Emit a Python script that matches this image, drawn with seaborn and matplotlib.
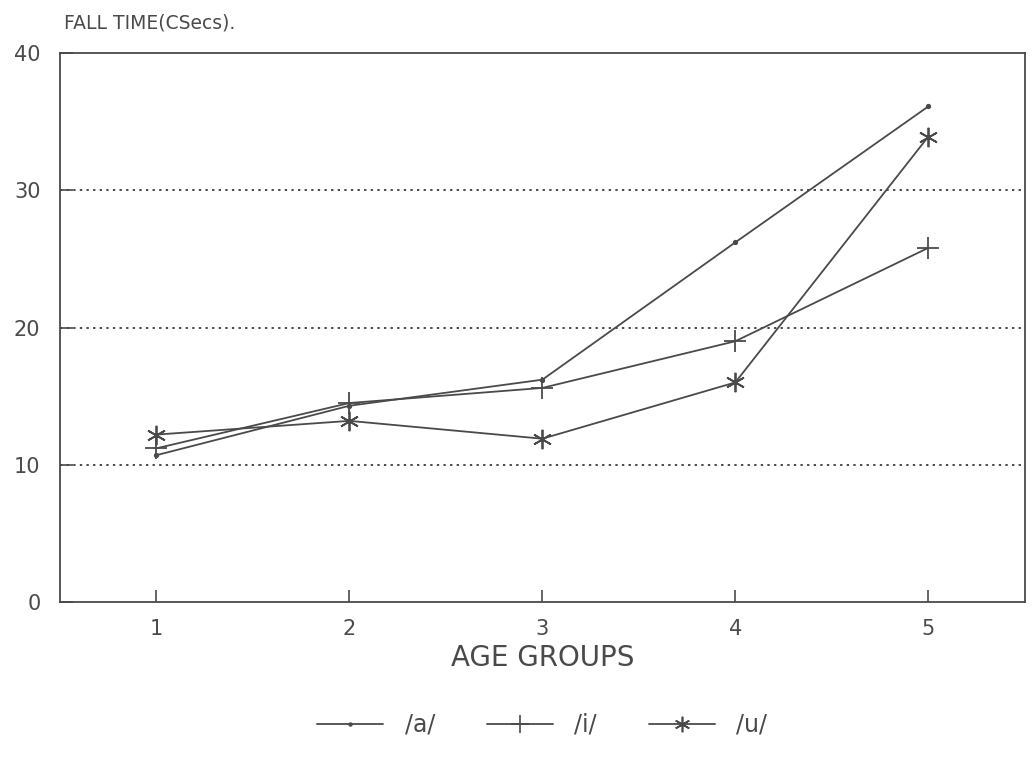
import matplotlib
matplotlib.use("Agg")
import matplotlib.pyplot as plt
import seaborn as sns
import pandas as pd
from matplotlib.lines import Line2D

# Fall time (centiseconds) by age group for three vowels
age_groups = [1, 2, 3, 4, 5]
vowels = ["/a/", "/i/", "/u/"]
fall_a = [10.7, 14.3, 16.2, 26.2, 36.1]
fall_i = [11.2, 14.5, 15.6, 19.0, 25.8]
fall_u = [12.2, 13.2, 11.9, 16.0, 33.9]
y_ticks = [0, 10, 20, 30, 40]

df = pd.DataFrame({
    "age": age_groups * 3,
    "fall": fall_a + fall_i + fall_u,
    "vowel": [vowels[0]] * 5 + [vowels[1]] * 5 + [vowels[2]] * 5,
})

sns.set_style("white")
plt.rcParams["font.family"] = ["DejaVu Sans"]

ink = "#4a4a4a"
markers = {"/a/": ".", "/i/": "+", "/u/": (6, 2, 0)}
sizes = {"/a/": 5, "/i/": 16, "/u/": 14}

fig = plt.figure(figsize=(10.33, 7.67), dpi=100)
ax = fig.add_axes([0.058, 0.215, 0.934, 0.716])

for v in vowels:
    sns.lineplot(data=df[df["vowel"] == v], x="age", y="fall",
                 color=ink, marker=markers[v], markersize=sizes[v],
                 markeredgewidth=1.3, markeredgecolor=ink, markerfacecolor=ink,
                 linewidth=1.3, ax=ax, legend=False)

ax.set_xlim(0.5, 5.5)
ax.set_ylim(0, 40)
ax.set_xticks(age_groups)
ax.set_yticks(y_ticks)
ax.tick_params(axis="both", direction="in", length=9, width=1.2, color=ink,
               labelcolor=ink, labelsize=15, bottom=True, left=True)
ax.tick_params(axis="x", pad=12)
ax.tick_params(axis="y", pad=14)
for s in ax.spines.values():
    s.set_color(ink)
    s.set_linewidth(1.3)

for yv in [10, 20, 30]:
    ax.axhline(yv, color=ink, linestyle=(0, (1.2, 2.2)), linewidth=1.4, zorder=0)

ax.set_xlabel("AGE GROUPS", fontsize=20, color=ink, labelpad=4)
ax.set_ylabel("")
fig.text(0.062, 0.958, "FALL TIME(CSecs).", fontsize=13.5, color=ink,
         ha="left", va="bottom")

handles = [Line2D([], [], color=ink, linewidth=1.3, marker=markers[v],
                  markersize=sizes[v] * 0.8, markeredgewidth=1.2)
           for v in vowels]
fig.legend(handles, vowels, loc="center", bbox_to_anchor=(0.525, 0.055),
           ncol=3, frameon=False, fontsize=17, labelcolor=ink,
           handlelength=2.8, columnspacing=2.2, handletextpad=0.9)

fig.savefig("out.png", dpi=100)
